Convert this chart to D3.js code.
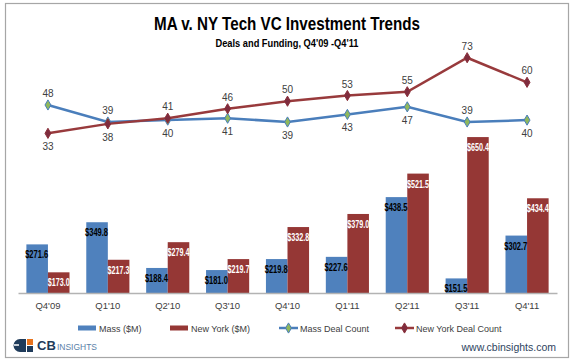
<!DOCTYPE html>
<html><head><meta charset="utf-8">
<script src="https://cdn.jsdelivr.net/npm/d3@7"></script>
<style>
html,body{margin:0;padding:0;background:#fff;}
svg{display:block;font-family:"Liberation Sans",Arial,sans-serif;}
</style></head>
<body>
<svg id="chart" width="575" height="363"></svg>
<script>
const categories = ["Q4'09","Q1'10","Q2'10","Q3'10","Q4'10","Q1'11","Q2'11","Q3'11","Q4'11"];
const massFunding = [271.6,349.8,188.4,181.0,219.8,227.6,438.5,151.5,302.7];
const nyFunding = [173.0,217.3,279.4,219.7,332.8,379.0,521.5,650.4,434.4];
const massDeals = [48,39,40,41,39,43,47,39,40];
const nyDeals = [33,38,41,46,50,53,55,73,60];
const massLabelAbove = [true,true,false,false,false,false,false,true,false];
const nyLabelAbove = [false,false,true,true,true,true,true,true,true];
const seriesNames = ["Mass ($M)","New York ($M)","Mass Deal Count","New York Deal Count"];

const BLUE = "#4f81bd", RED = "#953735", LBLUE = "#4a7ebb", LRED = "#983a3c";
const svg = d3.select("#chart");

// frame
svg.append("rect").attr("x",5.5).attr("y",3.5).attr("width",563).attr("height",354)
  .attr("fill","#fff").attr("stroke","#a6a6a6").attr("stroke-width",1.2);

// title
svg.append("text").attr("x",287).attr("y",30).attr("text-anchor","middle")
  .attr("font-family","Liberation Sans Narrow, Liberation Sans, Arial, sans-serif")
  .attr("font-weight","bold").attr("font-size",19).attr("fill","#000")
  .attr("textLength",266).attr("lengthAdjust","spacingAndGlyphs")
  .text("MA v. NY Tech VC Investment Trends");
svg.append("text").attr("x",287).attr("y",47).attr("text-anchor","middle")
  .attr("font-family","Liberation Sans Narrow, Liberation Sans, Arial, sans-serif")
  .attr("font-weight","bold").attr("font-size",11).attr("fill","#000")
  .attr("textLength",143).attr("lengthAdjust","spacingAndGlyphs")
  .text("Deals and Funding, Q4'09 -Q4'11");

const x = d3.scaleBand().domain(categories).range([18,557]).paddingInner(0.28).paddingOuter(0.14);
const yBar = d3.scaleLinear().domain([100,800]).range([293,94.7]);
const yLine = d3.scaleLinear().domain([0,80]).range([195.7,44.5]);
const bw = x.bandwidth()/2;
const cx = c => x(c) + x.bandwidth()/2;

// bars
const g = svg.append("g");
g.selectAll(".mb").data(categories).join("rect")
  .attr("x",c=>x(c)).attr("width",bw)
  .attr("y",(c,i)=>yBar(massFunding[i])).attr("height",(c,i)=>yBar(100)-yBar(massFunding[i]))
  .attr("fill",BLUE);
g.selectAll(".nb").data(categories).join("rect")
  .attr("x",c=>x(c)+bw).attr("width",bw)
  .attr("y",(c,i)=>yBar(nyFunding[i])).attr("height",(c,i)=>yBar(100)-yBar(nyFunding[i]))
  .attr("fill",RED);

// baseline axis
const xAxis = d3.axisBottom(x).tickSize(0).tickPadding(9);
const ax = svg.append("g").attr("transform","translate(0,293)").call(xAxis);
ax.select(".domain").attr("stroke","#b3b3b3").attr("stroke-width",1.3);
ax.selectAll("text").attr("font-family","Liberation Sans, Arial, sans-serif").attr("font-size",9.5).attr("fill","#404040");

// bar labels
const lblFont = "Liberation Sans, Arial, sans-serif";
g.selectAll(".ml").data(categories).join("text")
  .attr("x",c=>x(c)+bw/2-0.5).attr("y",(c,i)=>yBar(massFunding[i])+14)
  .attr("text-anchor","middle").attr("font-family",lblFont).attr("font-weight","bold").attr("font-size",10)
  .attr("textLength",23).attr("lengthAdjust","spacingAndGlyphs")
  .attr("fill","#000").text((c,i)=>"$"+massFunding[i].toFixed(1));
g.selectAll(".nl").data(categories).join("text")
  .attr("x",c=>x(c)+bw*1.5).attr("y",(c,i)=>yBar(nyFunding[i])+14)
  .attr("text-anchor","middle").attr("font-family",lblFont).attr("font-weight","bold").attr("font-size",10)
  .attr("textLength",22).attr("lengthAdjust","spacingAndGlyphs")
  .attr("fill","#fff").text((c,i)=>"$"+nyFunding[i].toFixed(1));

// lines
const line = d3.line().x(d=>cx(d.c)).y(d=>yLine(d.v));
const massPts = categories.map((c,i)=>({c,v:massDeals[i]}));
const nyPts = categories.map((c,i)=>({c,v:nyDeals[i]}));
svg.append("path").datum(massPts).attr("d",line).attr("fill","none").attr("stroke",LBLUE).attr("stroke-width",2.5);
svg.append("path").datum(nyPts).attr("d",line).attr("fill","none").attr("stroke",LRED).attr("stroke-width",2.5);
const diamond = d3.symbol().type(d3.symbolDiamond).size(30);
svg.selectAll(".mm").data(massPts).join("path").attr("d",diamond)
  .attr("transform",d=>`translate(${cx(d.c)},${yLine(d.v)})`).attr("fill","#8fb85c").attr("stroke",LBLUE).attr("stroke-width",1);
svg.selectAll(".nm").data(nyPts).join("path").attr("d",diamond)
  .attr("transform",d=>`translate(${cx(d.c)},${yLine(d.v)})`).attr("fill","#7e2c3e").attr("stroke","#8a2f3a").attr("stroke-width",1);

const lblStyle = s => s.attr("text-anchor","middle").attr("font-family","Liberation Sans, Arial, sans-serif").attr("font-size",10).attr("fill","#404040");
svg.selectAll(".mdl").data(massPts).join("text")
  .attr("x",d=>cx(d.c)).attr("y",(d,i)=>yLine(d.v)+(massLabelAbove[i]?-8:17))
  .call(lblStyle).text(d=>d.v);
svg.selectAll(".ndl").data(nyPts).join("text")
  .attr("x",d=>cx(d.c)).attr("y",(d,i)=>yLine(d.v)+(nyLabelAbove[i]?-8:17))
  .call(lblStyle).text(d=>d.v);

// legend
const leg = svg.append("g").attr("font-family","Liberation Sans, Arial, sans-serif").attr("font-size",9).attr("fill","#404040");
const legY = 328;
const legX = [78,170,279,395];
leg.append("rect").attr("x",legX[0]).attr("y",legY-2.5).attr("width",18).attr("height",5).attr("fill",BLUE);
leg.append("rect").attr("x",legX[1]).attr("y",legY-2.5).attr("width",18).attr("height",5).attr("fill",RED);
leg.append("line").attr("x1",legX[2]).attr("x2",legX[2]+19).attr("y1",legY).attr("y2",legY).attr("stroke",LBLUE).attr("stroke-width",2.5);
leg.append("path").attr("d",diamond).attr("transform",`translate(${legX[2]+9.5},${legY})`).attr("fill","#8fb85c").attr("stroke",LBLUE);
leg.append("line").attr("x1",legX[3]).attr("x2",legX[3]+19).attr("y1",legY).attr("y2",legY).attr("stroke",LRED).attr("stroke-width",2.5);
leg.append("path").attr("d",diamond).attr("transform",`translate(${legX[3]+9.5},${legY})`).attr("fill","#7e2c3e").attr("stroke","#8a2f3a");
seriesNames.forEach((n,i)=>{
  leg.append("text").attr("x",legX[i]+21).attr("y",legY+3.5).text(n);
});

// logo
const logo = svg.append("g");
logo.append("path").attr("d","M20,339 h6 v13 h-6 a6.5,6.5 0 0 1 0,-13 z").attr("fill","#1f3b5a");
logo.append("rect").attr("x",27).attr("y",339).attr("width",6).attr("height",6).attr("fill","#e8731c");
logo.append("rect").attr("x",27).attr("y",346).attr("width",6).attr("height",6).attr("fill","#1f3b5a");
logo.append("path").attr("d","M14,345 h5").attr("stroke","#fff").attr("stroke-width",1.5);
logo.append("text").attr("x",37).attr("y",350).attr("font-family","Liberation Sans, Arial, sans-serif")
  .attr("font-weight","bold").attr("font-size",13).attr("fill","#1f3b5a").text("CB");
logo.append("text").attr("x",57).attr("y",350).attr("font-family","Liberation Sans, Arial, sans-serif")
  .attr("font-size",9).attr("fill","#5a7fa8").attr("textLength",40).attr("lengthAdjust","spacingAndGlyphs").text("INSIGHTS");

svg.append("text").attr("x",556).attr("y",351).attr("text-anchor","end")
  .attr("font-family","Liberation Sans, Arial, sans-serif").attr("font-size",10.5).attr("fill","#2e4460")
  .text("www.cbinsights.com");
</script>
</body></html>
